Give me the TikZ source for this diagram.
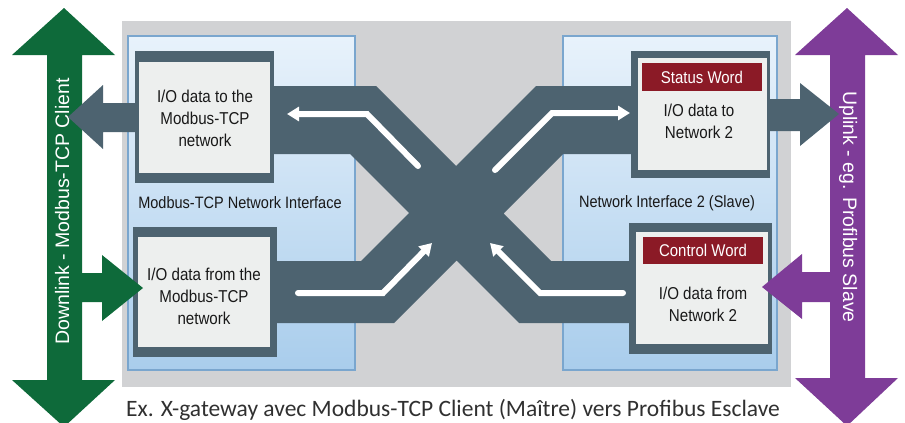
\documentclass[tikz,border=0pt]{standalone}
\usepackage{fontspec}
\setmainfont{Liberation Sans}
\newfontfamily\narrowf[FakeStretch=0.88]{Liberation Sans}
\newfontfamily\capf{Carlito}
\usetikzlibrary{arrows.meta}
\definecolor{bggray}{HTML}{D1D2D4}
\definecolor{slate}{HTML}{4D6370}
\definecolor{dgreen}{HTML}{0E6A3A}
\definecolor{dpurple}{HTML}{7E3C98}
\definecolor{redbar}{HTML}{8B1A26}
\definecolor{boxfill}{HTML}{EDEFEE}
\definecolor{panelborder}{HTML}{7AA6CE}
\definecolor{paneltop}{HTML}{E8F2FB}
\definecolor{panelbot}{HTML}{A9CDEC}
\definecolor{captext}{HTML}{303030}
\begin{document}
\begin{tikzpicture}[x=1pt,y=-1pt,
  panel/.style={draw=panelborder, line width=1.5pt, top color=paneltop, bottom color=panelbot, inner sep=0pt},
  frameouter/.style={fill=slate, inner sep=0pt},
  frameinner/.style={fill=boxfill, inner sep=0pt},
  boxtext/.style={font=\narrowf\fontsize{17.2}{22}\selectfont, align=center, text=black!90, inner sep=0pt},
  paneltext/.style={font=\narrowf\fontsize{16.5}{18}\selectfont, text=black!90, inner sep=0pt},
  wordbar/.style={fill=redbar, text=white, font=\narrowf\fontsize{17}{20}\selectfont, inner sep=0pt},
  whitearrow/.style={draw=white, line width=6pt, line cap=round, -{Triangle[length=12pt,width=14pt]}},
  sidetext/.style={text=white, font=\fontsize{19.5}{22}\selectfont, text height=14pt, text depth=0pt, inner sep=0pt}
]
\useasboundingbox (0,0) rectangle (905,423);
% background
\fill[bggray] (122,21) rectangle (791,387);
% panels
\node[panel, minimum width=227pt, minimum height=334pt] (lp) at (241.5,203) {};
\node[panel, minimum width=214pt, minimum height=334pt] (rp) at (670,203) {};
\node[paneltext] (lpl) at (240,203) {Modbus-TCP Network Interface};
\node[paneltext] (rpl) at (667,203) {Network Interface 2 (Slave)};
% X band
\fill[slate] (270,86) -- (376,86) -- (456,166) -- (536,86) -- (635,86) -- (635,154)
  -- (563,154) -- (503.5,213.5) -- (551,261) -- (635,261) -- (635,323) -- (519,323)
  -- (456.5,260.5) -- (394,323) -- (275,323) -- (275,261) -- (361,261) -- (409,213)
  -- (350,154) -- (270,154) -- cycle;
% boxes
\node[frameouter, minimum width=139pt, minimum height=132pt] (tlo) at (204.5,117) {};
\node[frameinner, minimum width=131pt, minimum height=111pt] (tli) at (204.5,117.5) {};
\node[frameouter, minimum width=144pt, minimum height=130pt] (blo) at (205,292) {};
\node[frameinner, minimum width=132pt, minimum height=110pt] (bli) at (204,292) {};
\node[frameouter, minimum width=139pt, minimum height=127pt] (rto) at (700.5,114.5) {};
\node[frameinner, minimum width=129pt, minimum height=112pt] (rti) at (702.5,114) {};
\node[frameouter, minimum width=143pt, minimum height=131pt] (rbo) at (700.5,288.5) {};
\node[frameinner, minimum width=132pt, minimum height=112pt] (rbi) at (702,288) {};
\node[wordbar, minimum width=120pt, minimum height=28pt] (sw) at (702,77) {Status Word};
\node[wordbar, minimum width=120pt, minimum height=27pt] (cw) at (703,250.5) {Control Word};
\node[boxtext] (t1) at (205,118.5) {I/O data to the\\Modbus-TCP\\network};
\node[boxtext] (t2) at (204,296) {I/O data from the\\Modbus-TCP\\network};
\node[boxtext] (t3) at (699,121) {I/O data to\\Network 2};
\node[boxtext] (t4) at (703,304) {I/O data from\\Network 2};
% white arrows
\coordinate (a1) at (418,166); \coordinate (a2) at (367,114); \coordinate (a3) at (287,114);
\coordinate (b1) at (495,170); \coordinate (b2) at (552,113); \coordinate (b3) at (630,113);
\coordinate (c1) at (298,293); \coordinate (c2) at (383,293); \coordinate (c3) at (432,243);
\coordinate (d1) at (623,293); \coordinate (d2) at (540,293); \coordinate (d3) at (490,243);
\draw[whitearrow] (a1) -- (a2) -- (a3);
\draw[whitearrow] (b1) -- (b2) -- (b3);
\draw[whitearrow] (c1) -- (c2) -- (c3);
\draw[whitearrow] (d1) -- (d2) -- (d3);
% green double arrow with branch
\fill[dgreen] (64,8) -- (115,55) -- (82,55) -- (82,273) -- (102,273) -- (102,255) -- (143,288)
  -- (102,321) -- (102,302) -- (82,302) -- (82,380) -- (115,380) -- (64,427) -- (12,380)
  -- (47,380) -- (47,55) -- (12,55) -- cycle;
% purple double arrow with branch
\fill[dpurple] (847,8) -- (898,55) -- (865,55) -- (865,378) -- (898,378) -- (847,426)
  -- (795,378) -- (830,378) -- (830,302) -- (802,302) -- (802,319) -- (762,287)
  -- (802,254) -- (802,272) -- (830,272) -- (830,55) -- (795,55) -- cycle;
\node[sidetext, rotate=90] (gl) at (62,211.5) {Downlink - Modbus-TCP Client};
\node[sidetext, rotate=-90] (pl) at (850,207) {Uplink - eg. Profibus Slave};
% slate exit arrows
\fill[slate] (135,103) -- (103,103) -- (103,85) -- (68,117) -- (103,149) -- (103,132) -- (135,132) -- cycle;
\fill[slate] (770,99) -- (800,99) -- (800,83) -- (839,114) -- (800,146) -- (800,131) -- (770,131) -- cycle;
% caption
\node[anchor=base west, inner sep=0pt, text=captext, font=\capf\fontsize{23.5}{26}\selectfont] (cap) at (126,416.5)
  {Ex. X-gateway avec Modbus-TCP Client (Maître) vers Profibus Esclave};
\end{tikzpicture}
\end{document}
